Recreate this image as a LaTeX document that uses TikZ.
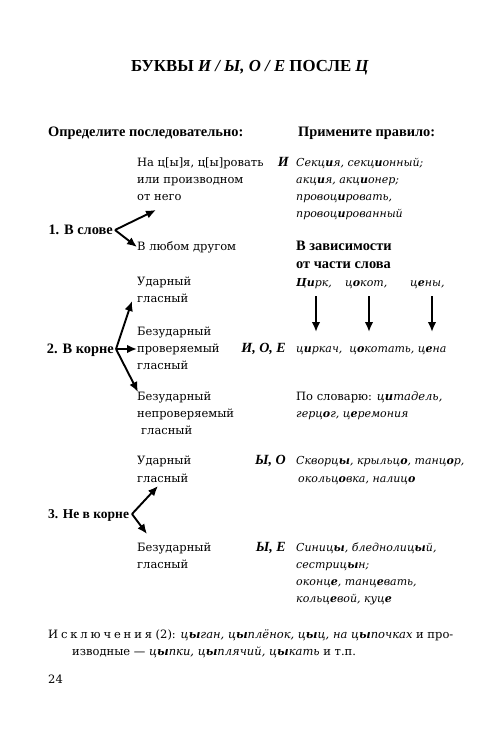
\documentclass[tikz,border=0pt]{standalone}
\usepackage{fontspec}
\setmainfont{DejaVu Serif}
\newfontfamily\hdfont{Liberation Serif}
\usetikzlibrary{arrows.meta}
\newcommand\vb[1]{{\bfseries #1}}
\tikzset{
  txt/.style={anchor=base west, inner sep=0pt, font=\fontsize{11.5}{14}\selectfont},
  ex/.style={anchor=base west, inner sep=0pt, font=\fontsize{11}{14}\selectfont\itshape},
  hd/.style={anchor=base west, inner sep=0pt, font=\hdfont\fontsize{14.4}{16}\selectfont\bfseries},
  let/.style={anchor=base east, inner sep=0pt, font=\hdfont\fontsize{14}{16}\selectfont\bfseries\itshape},
  arr/.style={line width=1.9pt, -{Latex[length=10pt,width=8.5pt]}},
}
\begin{document}
\begin{tikzpicture}[x=1pt,y=-1pt]
\useasboundingbox (0,0) rectangle (500,732);
% title
\node[anchor=base, inner sep=0pt, font=\hdfont\fontsize{16.8}{18}\selectfont\bfseries] (title) at (250,71) {БУКВЫ \textit{И / Ы, О / Е} ПОСЛЕ \textit{Ц}};
\node[hd] (h1) at (48,136) {Определите последовательно:};
\node[hd] (h2) at (298,136) {Примените правило:};
% block 1
\node[txt] (a1) at (137,166) {На ц[ы]я, ц[ы]ровать};
\node[txt] (a2) at (137,183) {или производном};
\node[txt] (a3) at (137,200) {от него};
\node[let] (lI) at (289,166) {И};
\node[ex] (e1) at (296,166) {Секц\vb{и}я, секц\vb{и}онный;};
\node[ex] (e2) at (296,183) {акц\vb{и}я, акц\vb{и}онер;};
\node[ex] (e3) at (296,200) {провоц\vb{и}ровать,};
\node[ex] (e4) at (296,217) {провоц\vb{и}рованный};
\node[hd, anchor=base east] (s1) at (113,234) {1. В слове};
\coordinate (s1o) at (115,230);
\coordinate (t1a) at (156,210);
\coordinate (t1b) at (137,247);
\node[txt] (b1) at (137,250) {В любом другом};
\draw[arr] (s1o) -- (t1a);
\draw[arr] (s1o) -- (t1b);
\node[hd] (z1) at (296,250) {В зависимости};
\node[hd] (z2) at (296,268) {от части слова};
\node[ex] (c1) at (296,286) {\vb{Ци}рк,};
\node[ex] (c2) at (345,286) {ц\vb{о}кот,};
\node[ex] (c3) at (410,286) {ц\vb{е}ны,};
\coordinate (d1a) at (316,296); \coordinate (d1b) at (316,332);
\coordinate (d2a) at (369,296); \coordinate (d2b) at (369,332);
\coordinate (d3a) at (432,296); \coordinate (d3b) at (432,332);
\draw[arr] (d1a) -- (d1b);
\draw[arr] (d2a) -- (d2b);
\draw[arr] (d3a) -- (d3b);
% block 2
\node[txt] (u1) at (137,285) {Ударный};
\node[txt] (u2) at (137,302) {гласный};
\node[txt] (p1) at (137,335) {Безударный};
\node[txt] (p2) at (137,352) {проверяемый};
\node[txt] (p3) at (137,369) {гласный};
\node[hd, anchor=base east] (s2) at (114,353) {2. В корне};
\coordinate (s2o) at (116,349);
\coordinate (t2a) at (132,301);
\coordinate (t2b) at (137,349);
\coordinate (t2c) at (138,392);
\draw[arr] (s2o) -- (t2a);
\draw[arr] (s2o) -- (t2b);
\draw[arr] (s2o) -- (t2c);
\node[let] (lIOE) at (286,352) {И, О, Е};
\node[ex] (f1) at (296,352) {ц\vb{и}ркач,\ \ ц\vb{о}котать,\ ц\vb{е}на};
\node[txt] (n1) at (137,400) {Безударный};
\node[txt] (n2) at (137,417) {непроверяемый};
\node[txt] (n3) at (141,434) {гласный};
\node[txt] (g1) at (296,400) {По словарю: \textit{ц\vb{и}тадель,}};
\node[ex] (g2) at (296,417) {герц\vb{о}г, ц\vb{е}ремония};
% block 3
\node[txt] (v1) at (137,464) {Ударный};
\node[txt] (v2) at (137,482) {гласный};
\node[let] (lYO) at (286,464) {Ы, О};
\node[ex] (h3) at (296,464) {Скворц\vb{ы}, крыльц\vb{о}, танц\vb{о}р,};
\node[ex] (h4) at (298,482) {окольц\vb{о}вка, налиц\vb{о}};
\node[hd, font=\hdfont\fontsize{13.5}{16}\selectfont\bfseries] (s3) at (48,518) {3. Не в корне};
\coordinate (s3o) at (132,514);
\coordinate (t3a) at (158,486);
\coordinate (t3b) at (147,534);
\draw[arr] (s3o) -- (t3a);
\draw[arr] (s3o) -- (t3b);
\node[txt] (w1) at (137,551) {Безударный};
\node[txt] (w2) at (137,568) {гласный};
\node[let] (lYE) at (286,551) {Ы, Е};
\node[ex] (k1) at (296,551) {Синиц\vb{ы}, бледнолиц\vb{ы}й,};
\node[ex] (k2) at (296,568) {сестриц\vb{ы}н;};
\node[ex] (k3) at (296,585) {оконц\vb{е}, танц\vb{е}вать,};
\node[ex] (k4) at (296,602) {кольц\vb{е}вой, куц\vb{е}};
% footer
\node[txt] (x1) at (48,638) {{\addfontfeature{LetterSpace=25}Исключения} (2): \textit{ц\vb{ы}ган, ц\vb{ы}плёнок, ц\vb{ы}ц, на ц\vb{ы}почках} и про-};
\node[txt] (x2) at (72,655) {изводные — \textit{ц\vb{ы}пки, ц\vb{ы}плячий, ц\vb{ы}кать} и т.п.};
\node[txt] (pg) at (48,683) {24};
\end{tikzpicture}
\end{document}
